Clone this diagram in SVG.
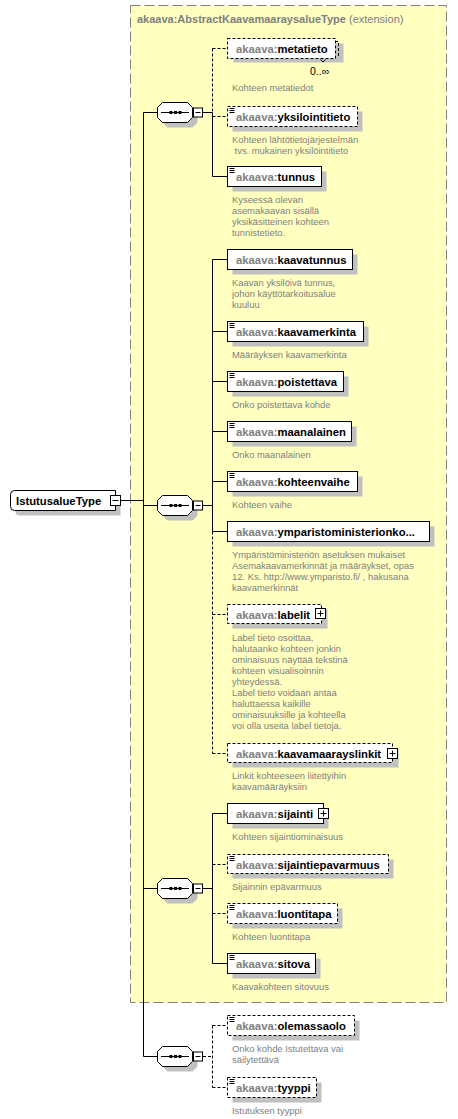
<svg xmlns="http://www.w3.org/2000/svg" width="458" height="1119" viewBox="0 0 458 1119">
<defs>
<style>
.bg{fill:#fff}
.ext{fill:#ffffc0;stroke:#808080;stroke-width:1;stroke-dasharray:10,4}
.sh{fill:#c0c0c0}
.box{fill:#fff;stroke:#000;stroke-width:1}
.opt{stroke-dasharray:3,2}
.ln{stroke:#000;stroke-width:1;fill:none}
.dl{stroke-dasharray:3,2}
.ic{stroke:#000;stroke-width:1;fill:none}
.nm{font-family:"Liberation Sans",Arial,sans-serif;font-size:11.3px;font-weight:bold;fill:#000}
.px{fill:#808080}
.ds{font-family:"Liberation Sans",Arial,sans-serif;font-size:9.4px;fill:#808080}
.tt{font-family:"Liberation Sans",Arial,sans-serif;font-size:11px;fill:#808080}
.mul{font-family:"Liberation Sans",Arial,sans-serif;font-size:10.5px;fill:#000}
</style>
</defs>
<rect class="bg" x="0" y="0" width="458" height="1119"/>
<g id="extension">
<rect class="ext" x="130.5" y="5.5" width="316" height="997"/>
<text class="tt" x="137" y="23"><tspan font-weight="bold">akaava:AbstractKaavamaaraysalueType</tspan> (extension)</text>
</g>
<g id="connectors">
<path class="ln" d="M120,500.5H143.5"/>
<path class="ln" d="M143.5,112.5V1056.5"/>
<path class="ln" d="M143.5,112.5H157.5M143.5,505.5H157.5M143.5,888.5H157.5M143.5,1056.5H157.5"/>
<!-- seq1 -->
<path class="ln" d="M203,112.5H212.5"/>
<path class="ln dl" d="M212.5,48.5V112.5M212.5,48.5H227.5M212.5,116.5H227.5"/>
<path class="ln" d="M212.5,112.5V176.5H227.5"/>
<!-- seq2 -->
<path class="ln" d="M203,505.5H212.5"/>
<path class="ln" d="M212.5,259.5V531.5M212.5,259.5H227.5M212.5,331.5H227.5M212.5,381.5H227.5M212.5,431.5H227.5M212.5,481.5H227.5M212.5,531.5H227.5"/>
<path class="ln dl" d="M212.5,531.5V753.5M212.5,614.5H227.5M212.5,753.5H227.5"/>
<!-- seq3 -->
<path class="ln" d="M203,888.5H212.5"/>
<path class="ln" d="M212.5,813.5V963.5M212.5,813.5H227.5M212.5,963.5H227.5"/>
<path class="ln dl" d="M212.5,864.5H227.5M212.5,913.5H227.5"/>
<!-- seq4 -->
<path class="ln dl" d="M203,1056.5H212.5M212.5,1025.5V1087.5M212.5,1025.5H227.5M212.5,1087.5H227.5"/>
</g>
<g id="IstutusalueType">
<path class="sh" d="M19.5,495.5H120.5V515.5H19.5Q15.5,515.5 15.5,511.5V499.5Q15.5,495.5 19.5,495.5Z"/>
<path class="box" d="M14.5,490.5H115.5V510.5H14.5Q10.5,510.5 10.5,506.5V494.5Q10.5,490.5 14.5,490.5Z"/>
<text class="nm" x="16" y="504.5">IstutusalueType</text>
<rect class="box" x="110.5" y="495.5" width="10" height="10"/>
<path class="ic" d="M112.5,500.5H118.5"/>
</g>
<g id="seq1">
<path class="sh" d="M167.5,107.5H192.5L197.5,112.5V122.5L192.5,127.5H167.5L162.5,122.5V112.5Z"/>
<path class="box" d="M162.5,102.5H187.5L192.5,107.5V117.5L187.5,122.5H162.5L157.5,117.5V107.5Z"/>
<path class="ic" d="M161,112.5H189"/>
<rect x="169.5" y="111" width="3" height="3"/><rect x="174" y="111" width="3" height="3"/><rect x="178.5" y="111" width="3" height="3"/>
<rect class="box" x="193.5" y="108" width="9" height="9"/>
<path class="ic" d="M195.5,112.5H200.5"/>
</g>
<g id="seq2">
<path class="sh" d="M167.5,500.5H192.5L197.5,505.5V515.5L192.5,520.5H167.5L162.5,515.5V505.5Z"/>
<path class="box" d="M162.5,495.5H187.5L192.5,500.5V510.5L187.5,515.5H162.5L157.5,510.5V500.5Z"/>
<path class="ic" d="M161,505.5H189"/>
<rect x="169.5" y="504" width="3" height="3"/><rect x="174" y="504" width="3" height="3"/><rect x="178.5" y="504" width="3" height="3"/>
<rect class="box" x="193.5" y="501" width="9" height="9"/>
<path class="ic" d="M195.5,505.5H200.5"/>
</g>
<g id="seq3">
<path class="sh" d="M167.5,883.5H192.5L197.5,888.5V898.5L192.5,903.5H167.5L162.5,898.5V888.5Z"/>
<path class="box" d="M162.5,878.5H187.5L192.5,883.5V893.5L187.5,898.5H162.5L157.5,893.5V883.5Z"/>
<path class="ic" d="M161,888.5H189"/>
<rect x="169.5" y="887" width="3" height="3"/><rect x="174" y="887" width="3" height="3"/><rect x="178.5" y="887" width="3" height="3"/>
<rect class="box" x="193.5" y="884" width="9" height="9"/>
<path class="ic" d="M195.5,888.5H200.5"/>
</g>
<g id="seq4">
<path class="sh" d="M167.5,1051.5H192.5L197.5,1056.5V1066.5L192.5,1071.5H167.5L162.5,1066.5V1056.5Z"/>
<path class="box" d="M162.5,1046.5H187.5L192.5,1051.5V1061.5L187.5,1066.5H162.5L157.5,1061.5V1051.5Z"/>
<path class="ic" d="M161,1056.5H189"/>
<rect x="169.5" y="1055" width="3" height="3"/><rect x="174" y="1055" width="3" height="3"/><rect x="178.5" y="1055" width="3" height="3"/>
<rect class="box" x="193.5" y="1052" width="9" height="9"/>
<path class="ic" d="M195.5,1056.5H200.5"/>
</g>
<g id="metatieto">
<rect class="sh" x="233.5" y="43.5" width="110" height="19"/>
<path class="ln opt" d="M335,41.5H338.5V58"/>
<rect class="box opt" x="227.5" y="38.5" width="108" height="20"/>
<text class="nm" x="236" y="52.5"><tspan class="px">akaava:</tspan>metatieto</text>
<path class="ic" d="M320.5,59.5L323,62L325.5,59.5"/>
<text class="mul" x="310" y="75">0..∞</text>
<text class="ds" x="232" y="91">Kohteen metatiedot</text>
</g>
<g id="yksilointitieto">
<rect class="sh" x="232.5" y="111.5" width="130" height="20"/>
<rect class="box opt" x="227.5" y="106.5" width="130" height="20"/>
<path class="ic" d="M229.5,108.5h5m-5,2h5m-5,2h5"/>
<text class="nm" x="236" y="120.5"><tspan class="px">akaava:</tspan>yksilointitieto</text>
<text class="ds" x="232" y="142.5">Kohteen lähtötietojärjestelmän</text>
<text class="ds" x="232" y="153.5" xml:space="preserve"> tvs. mukainen yksilöintitieto</text>
</g>
<g id="tunnus">
<rect class="sh" x="232.5" y="171.5" width="94" height="20"/>
<rect class="box" x="227.5" y="166.5" width="94" height="20"/>
<path class="ic" d="M229.5,168.5h5m-5,2h5m-5,2h5"/>
<text class="nm" x="236" y="180.5"><tspan class="px">akaava:</tspan>tunnus</text>
<text class="ds" x="232" y="202.5">Kyseessä olevan</text>
<text class="ds" x="232" y="213.5">asemakaavan sisällä</text>
<text class="ds" x="232" y="224.5">yksikäsitteinen kohteen</text>
<text class="ds" x="232" y="235.5">tunnistetieto.</text>
</g>
<g id="kaavatunnus">
<rect class="sh" x="232.5" y="254.5" width="125" height="20"/>
<rect class="box" x="227.5" y="249.5" width="125" height="20"/>
<text class="nm" x="236" y="263.5"><tspan class="px">akaava:</tspan>kaavatunnus</text>
<text class="ds" x="232" y="285.5">Kaavan yksilöivä tunnus,</text>
<text class="ds" x="232" y="296.5">johon käyttötarkoitusalue</text>
<text class="ds" x="232" y="307.5">kuuluu</text>
</g>
<g id="kaavamerkinta">
<rect class="sh" x="232.5" y="326.5" width="136" height="20"/>
<rect class="box" x="227.5" y="321.5" width="136" height="20"/>
<path class="ic" d="M229.5,323.5h5m-5,2h5m-5,2h5"/>
<text class="nm" x="236" y="335.5"><tspan class="px">akaava:</tspan>kaavamerkinta</text>
<text class="ds" x="232" y="357.5">Määräyksen kaavamerkinta</text>
</g>
<g id="poistettava">
<rect class="sh" x="232.5" y="376.5" width="116" height="20"/>
<rect class="box" x="227.5" y="371.5" width="116" height="20"/>
<path class="ic" d="M229.5,373.5h5m-5,2h5m-5,2h5"/>
<text class="nm" x="236" y="385.5"><tspan class="px">akaava:</tspan>poistettava</text>
<text class="ds" x="232" y="407.5">Onko poistettava kohde</text>
</g>
<g id="maanalainen">
<rect class="sh" x="232.5" y="426.5" width="124" height="20"/>
<rect class="box" x="227.5" y="421.5" width="124" height="20"/>
<path class="ic" d="M229.5,423.5h5m-5,2h5m-5,2h5"/>
<text class="nm" x="236" y="435.5"><tspan class="px">akaava:</tspan>maanalainen</text>
<text class="ds" x="232" y="457.5">Onko maanalainen</text>
</g>
<g id="kohteenvaihe">
<rect class="sh" x="232.5" y="476.5" width="130" height="20"/>
<rect class="box" x="227.5" y="471.5" width="130" height="20"/>
<path class="ic" d="M229.5,473.5h5m-5,2h5m-5,2h5"/>
<text class="nm" x="236" y="485.5"><tspan class="px">akaava:</tspan>kohteenvaihe</text>
<text class="ds" x="232" y="507.5">Kohteen vaihe</text>
</g>
<g id="ymparistoministerionkoodi">
<rect class="sh" x="232.5" y="526.5" width="202" height="20"/>
<rect class="box" x="227.5" y="521.5" width="202" height="20"/>
<text class="nm" x="236" y="535.5"><tspan class="px">akaava:</tspan>ymparistoministerionko...</text>
<text class="ds" x="232" y="557.5">Ympäristöministeriön asetuksen mukaiset</text>
<text class="ds" x="232" y="568.5">Asemakaavamerkinnät ja määräykset, opas</text>
<text class="ds" x="232" y="579.5">12. Ks. http://www.ymparisto.fi/ , hakusana</text>
<text class="ds" x="232" y="590.5">kaavamerkinnät</text>
</g>
<g id="labelit">
<rect class="sh" x="232.5" y="609.5" width="95" height="19"/>
<rect class="box opt" x="227.5" y="604.5" width="94" height="19"/>
<text class="nm" x="236" y="618.5"><tspan class="px">akaava:</tspan>labelit</text>
<rect class="box" x="315.5" y="608.5" width="10" height="10"/>
<path class="ic" d="M317.5,613.5H323.5M320.5,610.5V616.5"/>
<text class="ds" x="232" y="640.5">Label tieto osoittaa,</text>
<text class="ds" x="232" y="651.5">halutaanko kohteen jonkin</text>
<text class="ds" x="232" y="662.5">ominaisuus näyttää tekstinä</text>
<text class="ds" x="232" y="673.5">kohteen visualisoinnin</text>
<text class="ds" x="232" y="684.5">yhteydessä.</text>
<text class="ds" x="232" y="695.5">Label tieto voidaan antaa</text>
<text class="ds" x="232" y="706.5">haluttaessa kaikille</text>
<text class="ds" x="232" y="717.5">ominaisuuksille ja kohteella</text>
<text class="ds" x="232" y="728.5">voi olla useita label tietoja.</text>
</g>
<g id="kaavamaarayslinkit">
<rect class="sh" x="232.5" y="748.5" width="166" height="19"/>
<rect class="box opt" x="227.5" y="743.5" width="165" height="19"/>
<text class="nm" x="236" y="757.5"><tspan class="px">akaava:</tspan>kaavamaarayslinkit</text>
<rect class="box" x="387.5" y="748.5" width="10" height="10"/>
<path class="ic" d="M389.5,753.5H395.5M392.5,750.5V756.5"/>
<text class="ds" x="232" y="778.5">Linkit kohteeseen liitettyihin</text>
<text class="ds" x="232" y="789.5">kaavamääräyksiin</text>
</g>
<g id="sijainti">
<rect class="sh" x="232.5" y="808.5" width="96" height="20"/>
<rect class="box" x="227.5" y="803.5" width="96" height="20"/>
<text class="nm" x="236" y="817.5"><tspan class="px">akaava:</tspan>sijainti</text>
<rect class="box" x="318.5" y="808.5" width="10" height="10"/>
<path class="ic" d="M320.5,813.5H326.5M323.5,810.5V816.5"/>
<text class="ds" x="232" y="839.5">Kohteen sijaintiominaisuus</text>
</g>
<g id="sijaintiepavarmuus">
<rect class="sh" x="232.5" y="859.5" width="161" height="19"/>
<rect class="box opt" x="227.5" y="854.5" width="161" height="19"/>
<path class="ic" d="M229.5,856.5h5m-5,2h5m-5,2h5"/>
<text class="nm" x="236" y="868.5"><tspan class="px">akaava:</tspan>sijaintiepavarmuus</text>
<text class="ds" x="232" y="889.5">Sijainnin epävarmuus</text>
</g>
<g id="luontitapa">
<rect class="sh" x="232.5" y="908.5" width="110" height="20"/>
<rect class="box opt" x="227.5" y="903.5" width="110" height="20"/>
<path class="ic" d="M229.5,905.5h5m-5,2h5m-5,2h5"/>
<text class="nm" x="236" y="917.5"><tspan class="px">akaava:</tspan>luontitapa</text>
<text class="ds" x="232" y="939.5">Kohteen luontitapa</text>
</g>
<g id="sitova">
<rect class="sh" x="232.5" y="958.5" width="88" height="20"/>
<rect class="box" x="227.5" y="953.5" width="88" height="20"/>
<path class="ic" d="M229.5,955.5h5m-5,2h5m-5,2h5"/>
<text class="nm" x="236" y="967.5"><tspan class="px">akaava:</tspan>sitova</text>
<text class="ds" x="232" y="989.5">Kaavakohteen sitovuus</text>
</g>
<g id="olemassaolo">
<rect class="sh" x="232.5" y="1020.5" width="127" height="20"/>
<rect class="box opt" x="227.5" y="1015.5" width="127" height="20"/>
<path class="ic" d="M229.5,1017.5h5m-5,2h5m-5,2h5"/>
<text class="nm" x="236" y="1029.5"><tspan class="px">akaava:</tspan>olemassaolo</text>
<text class="ds" x="232" y="1051.5">Onko kohde Istutettava vai</text>
<text class="ds" x="232" y="1062.5">säilytettävä</text>
</g>
<g id="tyyppi">
<rect class="sh" x="232.5" y="1082.5" width="89" height="20"/>
<rect class="box opt" x="227.5" y="1077.5" width="89" height="20"/>
<path class="ic" d="M229.5,1079.5h5m-5,2h5m-5,2h5"/>
<text class="nm" x="236" y="1091.5"><tspan class="px">akaava:</tspan>tyyppi</text>
<text class="ds" x="232" y="1113.5">Istutuksen tyyppi</text>
</g>
</svg>
